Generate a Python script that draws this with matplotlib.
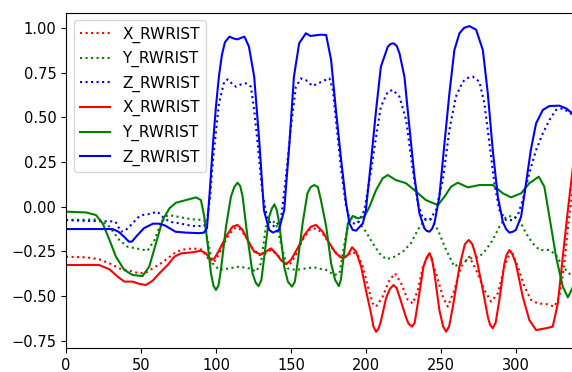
import matplotlib
matplotlib.use("Agg")
import matplotlib.pyplot as plt

# значения (x - номер кадра, y - координата)
x_dot_x = [0, 13.3, 22, 29, 35.5, 42.2, 49, 53.3, 57.8, 63.3, 67.8, 72.2, 76.7, 84.4, 90, 93.3, 96.7, 100,
           103.3, 107.8, 112.2, 115.5, 120, 124.4, 128.9, 133.3, 136.7, 141.1, 145.5, 149, 153.3, 157.8, 162.2,
           166.7, 171.2, 176.8, 182.4, 186.8, 190.8, 194.6, 198, 201.3, 204.6, 206.8, 211.2, 215.7, 219.5, 223.5,
           228, 231.3, 234.6, 238, 242.4, 246.8, 251.3, 254.6, 259, 263.5, 269, 273.5, 279, 283.5, 288, 292.4,
           296.8, 301.3, 305.7, 310.2, 314.6, 320, 325.7, 329, 332.4, 334.7, 338.6]
x_dot_y = [-0.28, -0.283, -0.294, -0.317, -0.345, -0.358, -0.373, -0.369, -0.345, -0.317, -0.289, -0.261, -0.242,
           -0.233, -0.239, -0.27, -0.317, -0.298, -0.242, -0.168, -0.121, -0.121, -0.168, -0.233, -0.27, -0.261,
           -0.242, -0.27, -0.317, -0.326, -0.27, -0.186, -0.13, -0.121, -0.149, -0.224, -0.28, -0.28, -0.252,
           -0.27, -0.335, -0.447, -0.541, -0.559, -0.503, -0.41, -0.373, -0.429, -0.522, -0.541, -0.466, -0.335,
           -0.261, -0.373, -0.503, -0.559, -0.466, -0.335, -0.28, -0.354, -0.466, -0.531, -0.485, -0.335, -0.243,
           -0.335, -0.447, -0.522, -0.541, -0.544, -0.559, -0.503, -0.317, -0.12, 0.15]

y_dot_x = [0, 22, 29, 35.5, 41, 46.7, 54.4, 59, 63.3, 67.8, 72.2, 76.7, 84.4, 92.2, 94.4, 97.8, 102.2, 108.9,
           115.5, 122.2, 126.7, 130, 133.3, 136.7, 140, 144.4, 147.8, 153.3, 160, 165.5, 170.7, 173.5, 179, 182.4,
           185.7, 189, 192.4, 195.7, 200, 204.6, 209, 213.5, 219, 224.6, 230, 234.6, 239, 243.5, 248, 253.5, 259,
           264.6, 270, 275.7, 280, 284.6, 289, 293.5, 298, 302.4, 306.8, 311.3, 315.7, 322.4, 326.8, 331.3, 338.6]
y_dot_y = [-0.075, -0.071, -0.112, -0.186, -0.224, -0.233, -0.246, -0.186, -0.093, -0.047, -0.052, -0.06, -0.071,
           -0.075, -0.186, -0.317, -0.354, -0.345, -0.335, -0.345, -0.363, -0.317, -0.112, -0.075, -0.093, -0.242,
           -0.345, -0.354, -0.345, -0.339, -0.35, -0.354, -0.382, -0.373, -0.205, -0.075, -0.052, -0.093, -0.14,
           -0.205, -0.261, -0.294, -0.28, -0.252, -0.205, -0.13, -0.075, -0.071, -0.13, -0.242, -0.335, -0.308,
           -0.289, -0.28, -0.242, -0.186, -0.112, -0.056, -0.052, -0.075, -0.149, -0.205, -0.242, -0.242, -0.27,
           -0.335, -0.4]

z_dot_x = [0, 15, 30, 33, 36.7, 40, 44.4, 48, 51, 55.5, 61, 64.4, 69, 75.5, 84.4, 92, 94, 96, 98, 102, 105.5,
           107.8, 110.5, 113.3, 117, 120, 123.3, 125.5, 127.8, 131, 134.4, 139, 143.3, 146.7, 150, 153.3, 156.7,
           160, 164.4, 167, 172, 175.7, 178, 180, 183.5, 186.8, 190, 194.6, 199, 203.5, 206.8, 210, 214.6, 218,
           222.4, 226.8, 231.3, 234.6, 238, 242.4, 246.8, 251.3, 255.7, 260, 264.6, 268, 271.3, 275.7, 279, 282.4,
           285.7, 289, 293.5, 298, 301.3, 304.6, 309, 313.5, 318, 322.4, 326.8, 331.3, 338.6]
z_dot_y = [-0.075, -0.08, -0.082, -0.084, -0.14, -0.13, -0.093, -0.06, -0.047, -0.041, -0.028, -0.056, -0.084,
           -0.093, -0.108, -0.108, -0.08, 0.05, 0.261, 0.578, 0.699, 0.712, 0.69, 0.671, 0.685, 0.69, 0.671, 0.541,
           0.354, 0.075, -0.075, -0.112, -0.075, 0.168, 0.447, 0.671, 0.717, 0.708, 0.675, 0.685, 0.705, 0.718,
           0.653, 0.485, 0.205, 0.0, -0.093, -0.093, -0.019, 0.205, 0.392, 0.559, 0.643, 0.653, 0.615, 0.485,
           0.205, 0.019, -0.065, -0.075, -0.019, 0.15, 0.429, 0.615, 0.699, 0.72, 0.727, 0.699, 0.578, 0.354, 0.131,
           -0.019, -0.075, -0.075, -0.047, 0.037, 0.187, 0.317, 0.41, 0.485, 0.541, 0.55, 0.51]

x_sol_x = [0, 22, 29, 34.4, 38.9, 44.4, 49, 53.3, 57.8, 62.2, 67.8, 72.2, 76.7, 84.4, 90, 93.3, 96.7, 99, 102.2,
           106.7, 111, 114.4, 117.8, 121, 125.5, 130, 133.3, 136.7, 140, 143.3, 146.7, 150, 154.4, 159, 163.3,
           166.7, 171.2, 175.7, 180, 184.6, 188, 190.8, 193.5, 196.8, 200, 203.5, 205, 206.8, 208.5, 210, 213.5,
           216, 218.4, 220.5, 222.4, 226.8, 228.5, 230.8, 232.5, 234.6, 238.4, 240.5, 242.4, 244, 245.7, 249,
           251.5, 253.5, 255.5, 258, 262.4, 266, 268.6, 271, 273.5, 278, 281.3, 282.8, 284.6, 286.5, 289, 292.4,
           293.8, 295.7, 297.7, 300, 304.6, 309, 313.5, 320, 324.6, 328, 331.3, 334.7, 338.6]
x_sol_y = [-0.326, -0.326, -0.35, -0.391, -0.419, -0.419, -0.432, -0.438, -0.414, -0.373, -0.326, -0.28, -0.261,
           -0.255, -0.246, -0.261, -0.298, -0.289, -0.242, -0.168, -0.112, -0.102, -0.13, -0.186, -0.252, -0.267,
           -0.252, -0.233, -0.261, -0.298, -0.321, -0.298, -0.233, -0.158, -0.112, -0.102, -0.14, -0.205, -0.261,
           -0.289, -0.27, -0.227, -0.252, -0.335, -0.466, -0.6, -0.67, -0.7, -0.68, -0.64, -0.51,
           -0.46, -0.438, -0.455, -0.503, -0.62, -0.655, -0.671, -0.65, -0.541, -0.335, -0.285, -0.261, -0.29,
           -0.373, -0.578, -0.67, -0.699, -0.67, -0.559, -0.335, -0.21, -0.186, -0.21, -0.28, -0.466, -0.615,
           -0.66, -0.68, -0.65, -0.522, -0.317, -0.27, -0.243, -0.265, -0.317, -0.503, -0.634, -0.69, -0.68,
           -0.671, -0.541, -0.28, -0.019, 0.26]

y_sol_x = [0, 13.3, 20, 24.4, 29, 33.3, 38.9, 44.4, 51, 55.5, 60, 64.4, 69, 73.3, 80, 86.7, 90, 92.2, 94.4, 96.7,
           98.3, 100, 101.7, 103.3, 106.7, 110, 112.2, 114.4, 116.2, 117.8, 121, 124.4, 126.5, 128.4, 130.3, 132.2,
           135.5, 137.3, 139, 140.6, 142.2, 145.5, 148, 150.7, 152.6, 154.4, 157.8, 161, 163.2, 165.5, 168, 170,
           173.5, 176.8, 179.5, 182, 183.3, 184.6, 188, 191.2, 194.6, 199, 202.4, 206.8, 211.2, 214.6, 220, 226.8,
           233.5, 240, 248, 252.4, 256.8, 261.3, 268, 275.7, 284.6, 291.3, 296.8, 303.5, 309, 315.3, 319, 322.4,
           326.8, 331.3, 334.7, 338.6]
y_sol_y = [-0.028, -0.032, -0.047, -0.093, -0.186, -0.28, -0.354, -0.382, -0.388, -0.335, -0.205, -0.075, -0.009,
           0.022, 0.037, 0.052, 0.037, -0.056, -0.205, -0.373, -0.44, -0.466, -0.44, -0.354, -0.112, 0.056, 0.11,
           0.134, 0.115, 0.056, -0.168, -0.373, -0.425, -0.444, -0.41, -0.28, -0.056, -0.01, 0.013, -0.02, -0.093,
           -0.335, -0.42, -0.447, -0.42, -0.317, -0.093, 0.075, 0.11, 0.121, 0.11, 0.037, -0.11, -0.317, -0.41,
           -0.444, -0.41, -0.317, -0.093, -0.052, -0.065, -0.056, 0.0, 0.093, 0.159, 0.177, 0.149, 0.131, 0.084,
           0.037, 0.009, 0.056, 0.112, 0.134, 0.108, 0.121, 0.121, 0.075, 0.052, 0.075, 0.131, 0.168, 0.112,
           -0.056, -0.28, -0.447, -0.507, -0.44]

z_sol_x = [0, 31, 35, 39, 42, 44, 47, 52, 58, 62, 66, 73, 80, 89, 92, 94, 96, 98, 100, 102, 104, 106, 109, 112,
           114.4, 117, 119, 122, 125.5, 129, 132, 135.5, 138, 142, 145.5, 149, 152, 155.5, 160, 163, 166, 170,
           173.5, 176.8, 180, 183.5, 186.8, 189, 191.2, 193.5, 198, 200, 203.5, 206.8, 210, 214.6, 216.5, 218.4,
           220.5, 222.4, 225.7, 229, 232.4, 235.7, 239, 240.5, 242.4, 244, 245.7, 249, 252.4, 255.7, 259, 262.4,
           265.5, 269, 273.5, 278, 281.3, 284.6, 288, 291.3, 293.5, 295.7, 298, 300, 303.5, 306.8, 310, 313.5,
           318, 322.4, 329, 333.5, 338.6]
z_sol_y = [-0.125, -0.125, -0.14, -0.17, -0.196, -0.195, -0.165, -0.12, -0.095, -0.095, -0.105, -0.14, -0.145,
           -0.148, -0.145, -0.12, 0.1, 0.35, 0.56, 0.73, 0.85, 0.92, 0.951, 0.94, 0.936, 0.945, 0.951, 0.895, 0.727,
           0.354, -0.02, -0.13, -0.145, -0.13, -0.02, 0.354, 0.727, 0.914, 0.97, 0.955, 0.958, 0.962, 0.96, 0.82,
           0.541, 0.261, 0.02, -0.093, -0.13, -0.134, -0.093, -0.019, 0.261, 0.541, 0.783, 0.895, 0.91, 0.914,
           0.9, 0.858, 0.727, 0.447, 0.168, -0.037, -0.121, -0.135, -0.14, -0.125, -0.093, 0.056, 0.354, 0.634,
           0.876, 0.97, 1.0, 1.01, 0.99, 0.876, 0.634, 0.317, 0.056, -0.084, -0.125, -0.145, -0.14, -0.13, -0.056,
           0.131, 0.317, 0.466, 0.541, 0.563, 0.565, 0.55, 0.515]

plt.rcParams['font.size'] = 10.5

fig = plt.figure(figsize=(5.72, 3.72), dpi=100)
ax = fig.add_axes([0.1154, 0.0637, 0.8876, 0.9022])

# сначала пунктир, потом сплошные
ax.plot(x_dot_x, x_dot_y, 'r:', label='X_RWRIST')
ax.plot(y_dot_x, y_dot_y, 'g:', label='Y_RWRIST')
ax.plot(z_dot_x, z_dot_y, 'b:', label='Z_RWRIST')
ax.plot(x_sol_x, x_sol_y, 'r-', label='X_RWRIST')
ax.plot(y_sol_x, y_sol_y, 'g-', label='Y_RWRIST')
ax.plot(z_sol_x, z_sol_y, 'b-', label='Z_RWRIST')

ax.set_xlim(0, 338.6)
ax.set_ylim(-0.792, 1.085)
ax.legend(loc='upper left', fontsize=11, labelspacing=0.55)

fig.savefig('out.png', dpi=100)
